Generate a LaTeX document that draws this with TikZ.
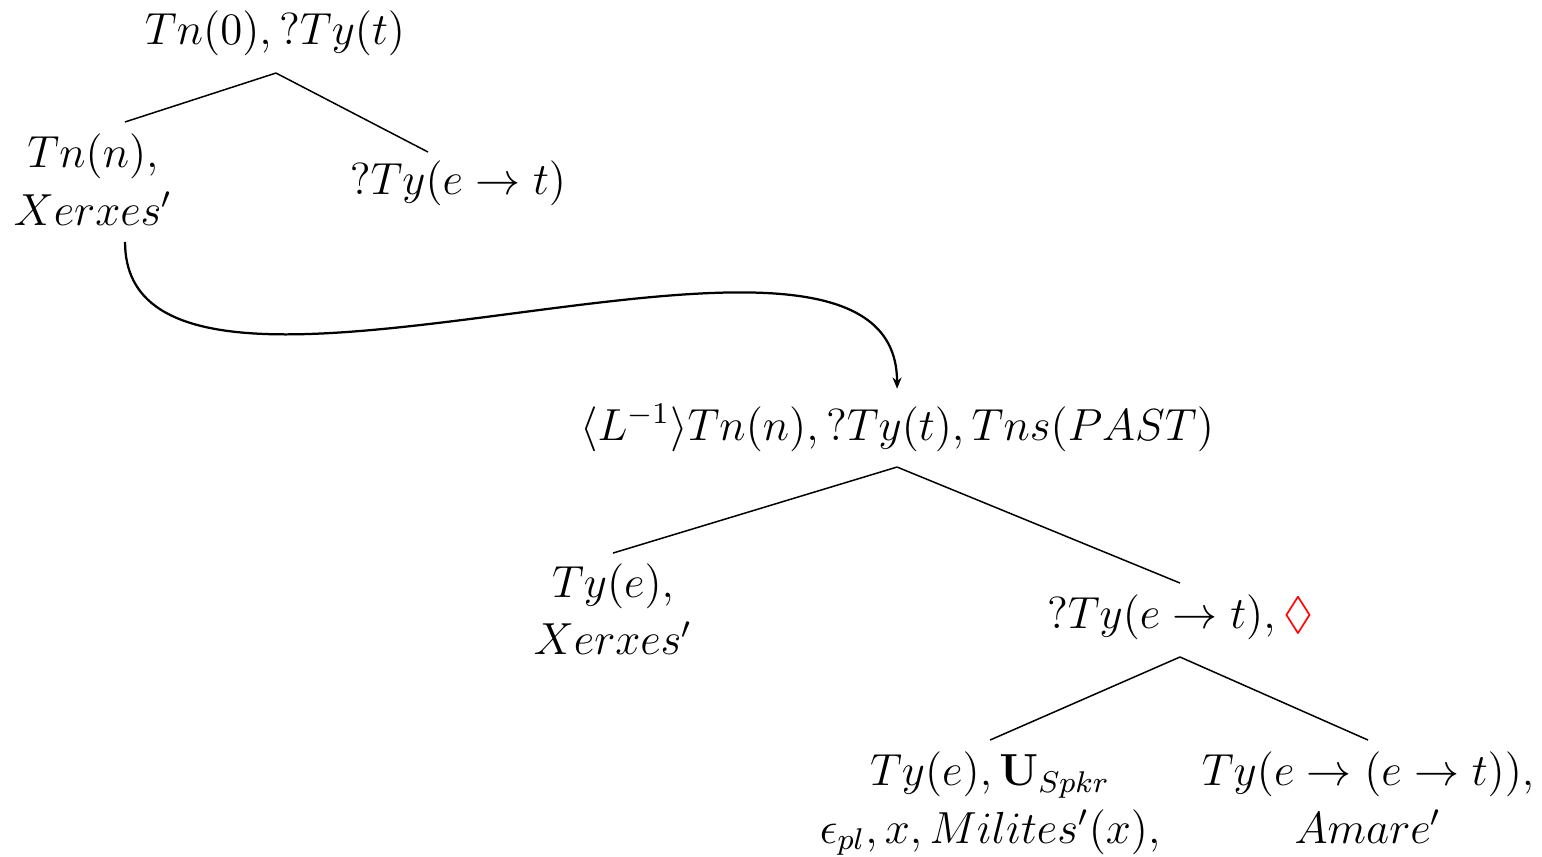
\documentclass[12pt,tikz,border=0pt]{standalone}
\usepackage{amssymb}
\usetikzlibrary{arrows.meta}

\tikzset{
  lbl/.style={anchor=base, align=center},
  branch/.style={draw, line width=0.4pt}
}

\begin{document}
\begin{tikzpicture}
  \useasboundingbox (0,0) rectangle (14.465,-8.039);

  \node[lbl] (top) at (2.580,-0.422) {$Tn(0), ?Ty(t)$};
  \node[lbl] (subj) at (0.872,-2.111) {$Tn(n),$\\[0.75pt]$Xerxes'$};
  \node[lbl] (pred) at (4.296,-1.829) {$?Ty(e \rightarrow t)$};
  \coordinate (topfork) at (2.589,-0.685);
  \coordinate (subjend) at (1.173,-1.144);
  \coordinate (predend) at (4.015,-1.426);
  \path[branch] (topfork) -- (subjend);
  \path[branch] (topfork) -- (predend);

  \node[lbl] (link) at (8.415,-4.128) {$\langle L^{-1}\rangle Tn(n), ?Ty(t), Tns(PAST)$};
  \node[lbl] (linksubj) at (5.750,-6.144) {$Ty(e),$\\[0.75pt]$Xerxes'$};
  \node[lbl] (linkpred) at (11.069,-5.891) {$?Ty(e \rightarrow t), \textcolor{red}{\Diamond}$};
  \coordinate (linkfork) at (8.415,-4.381);
  \coordinate (linksubjend) at (5.750,-5.188);
  \coordinate (linkpredend) at (11.069,-5.469);
  \path[branch] (linkfork) -- (linksubjend);
  \path[branch] (linkfork) -- (linkpredend);

  \node[lbl] (obj) at (9.287,-7.908) {$Ty(e), \mathbf{U}_{Spkr}$\\[0.75pt]$\epsilon_{pl}, x, Milites'(x),$};
  \node[lbl] (verb) at (12.833,-7.908) {$Ty(e \rightarrow (e \rightarrow t)),$\\[0.75pt]$Amare'$};
  \coordinate (predfork) at (11.069,-6.163);
  \coordinate (objend) at (9.287,-6.942);
  \coordinate (verbend) at (12.833,-6.942);
  \path[branch] (predfork) -- (objend);
  \path[branch] (predfork) -- (verbend);

  \coordinate (arcstart) at (1.173,-2.270);
  \draw[-{Stealth[length=3pt, width=2.4pt]}, semithick] (arcstart) .. controls +(0,-2.28) and +(0,2.3) .. (link.north);
\end{tikzpicture}
\end{document}
